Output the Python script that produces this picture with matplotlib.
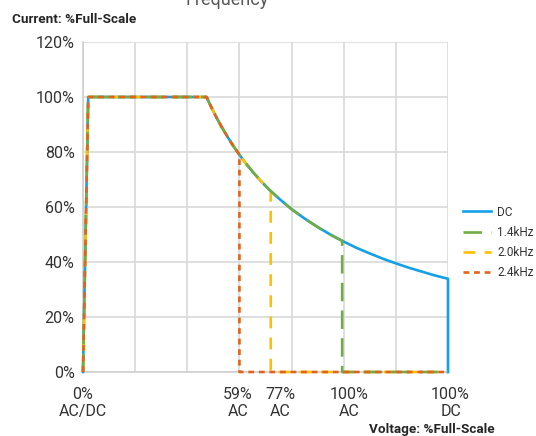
import matplotlib.pyplot as plt
from matplotlib.lines import Line2D

# x in grid units (7 columns across the plot), y in % of full-scale current
curve_x = [2.37, 2.45, 2.55, 2.65, 2.75, 2.875, 3.0, 3.125, 3.25, 3.375, 3.5, 3.6,
           3.75, 3.875, 4.0, 4.25, 4.5, 4.75, 4.97, 5.25, 5.5, 5.75, 6.0, 6.25,
           6.5, 6.75, 7.0]
curve_y = [100, 96.7, 92.9, 89.4, 86.2, 82.4, 79, 75.8, 72.9, 70.2, 67.7, 65.8,
           63.2, 61.2, 59.2, 55.8, 52.7, 49.9, 47.7, 45.1, 43.1, 41.2, 39.5, 37.9,
           36.5, 35.1, 33.9]

rise_x = [0.0, 0.1]
rise_y = [0, 100]

series_names = ['DC', '1.4kHz', '2.0kHz', '2.4kHz']
cutoff_x = [7.0, 4.97, 3.6, 3.0]
series_colors = ['#14A0E6', '#70AD47', '#FFC000', '#E2631C']
series_dashes = [None, (7, 3.5), (4.5, 3.5), (2.2, 1.8)]
draw_z = [3, 5, 4, 6]

xtick_labels = ['0%\nAC/DC', '59%\nAC', '77%\nAC', '100%\nAC', '100%\nDC']
xtick_label_pos = [0.0, 2.97, 3.78, 5.1, 7.05]
ytick_vals = [0, 20, 40, 60, 80, 100, 120]


def build_series(xcut):
    xs = list(rise_x)
    ys = list(rise_y)
    for x, y in zip(curve_x, curve_y):
        if x <= xcut:
            xs.append(x)
            ys.append(y)
    xs.append(xcut)
    ys.append(0)
    if xcut < 7.0:
        xs.append(7.0)
        ys.append(0)
    return xs, ys


plt.rcParams['font.family'] = ['Roboto', 'DejaVu Sans']

fig = plt.figure(figsize=(5.36, 4.36), dpi=100)
ax = fig.add_axes([83 / 536, 64 / 436, 365 / 536, 330 / 436])

for name, xc, col, dash, z in zip(series_names, cutoff_x, series_colors, series_dashes, draw_z):
    xs, ys = build_series(xc)
    ln, = ax.plot(xs, ys, color=col, lw=1.9, label=name, zorder=z, clip_on=False)
    if dash is not None:
        ln.set_dashes(dash)

ax.set_xlim(0, 7)
ax.set_ylim(0, 120)
ax.set_xticks(range(8))
ax.set_xticklabels([])
ax.set_yticks(ytick_vals)
ax.set_yticklabels([f'{v}%' for v in ytick_vals], fontsize=11.5, color='#333333')
ax.tick_params(length=0, pad=6)
ax.grid(True, color='#D9D9D9', lw=1.2, zorder=0)
for s in ['top', 'right']:
    ax.spines[s].set_visible(False)
for s in ['left', 'bottom']:
    ax.spines[s].set_color('#D0D0D0')
    ax.spines[s].set_linewidth(1.2)

for lab, xp in zip(xtick_labels, xtick_label_pos):
    ax.text(xp, -5.5, lab, ha='center', va='top', fontsize=11.5,
            color='#333333', linespacing=1.15, clip_on=False)

handles = []
for name, col, dash in zip(series_names, series_colors, series_dashes):
    h = Line2D([0], [0], color=col, lw=1.9)
    if dash is not None:
        h.set_dashes(dash)
    handles.append(h)
fig.legend(handles, series_names, loc='upper left', bbox_to_anchor=(452 / 536, 1 - 195 / 436),
           frameon=False, fontsize=8.5, handlelength=2.4, labelspacing=0.6, handletextpad=0.55,
           labelcolor='#333333')

bold_family = ['Liberation Sans Narrow', 'Roboto', 'DejaVu Sans']
fig.text(12 / 536, 1 - 23 / 436, 'Current: %Full-Scale', fontsize=9.7, fontweight='bold',
         family=bold_family, color='#262626')
fig.text(495 / 536, 1 - 433 / 436, 'Voltage: %Full-Scale', fontsize=9.7, fontweight='bold',
         family=bold_family, color='#262626', ha='right')
fig.text(227 / 536, 1 - 5 / 436, 'Frequency', fontsize=13, color='#595959',
         ha='center', va='baseline')

fig.savefig('out.png', dpi=100)
